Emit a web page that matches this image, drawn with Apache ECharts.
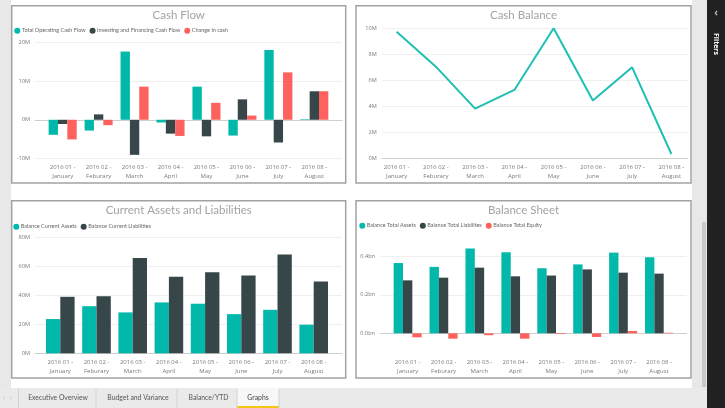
<!DOCTYPE html>
<html>
<head>
<meta charset="utf-8">
<script src="https://cdn.jsdelivr.net/npm/echarts@6/dist/echarts.min.js"></script>
<style>
html,body{margin:0;padding:0;background:#fff;}
#main{width:725px;height:408px;}
</style>
</head>
<body>
<div id="main"></div>
<script>
// ---- data ----
const categories = ["2016 01 - January","2016 02 - Feburary","2016 03 - March","2016 04 - April","2016 05 - May","2016 06 - June","2016 07 - July","2016 08 - August"];

// Cash Flow (millions)
const operatingCashFlow = [-3.9, -2.8, 17.7, -0.7, 8.6, -4.1, 18.1, 0.15];
const investingFinancingCashFlow = [-1.1, 1.4, -9.1, -3.6, -4.3, 5.3, -5.9, 7.4];
const changeInCash = [-5.1, -1.4, 8.6, -4.2, 4.4, 1.1, 12.3, 7.4];

// Cash Balance (millions)
const cashBalance = [9.74, 7.05, 3.82, 5.26, 10.0, 4.44, 7.0, 0.33];

// Current Assets and Liabilities (millions)
const currentAssets = [23.7, 32.6, 28.3, 35.2, 34.3, 27.1, 30.1, 19.8];
const currentLiabilities = [39.1, 39.5, 66.0, 52.9, 56.1, 53.8, 68.3, 49.7];

// Balance Sheet (billions)
const totalAssets = [0.365, 0.345, 0.440, 0.421, 0.338, 0.358, 0.419, 0.395];
const totalLiabilities = [0.275, 0.289, 0.341, 0.296, 0.300, 0.332, 0.315, 0.310];
const totalEquity = [-0.021, -0.028, -0.010, -0.028, -0.004, -0.019, 0.012, 0.003];

const tabs = ["Executive Overview", "Budget and Variance", "Balance/YTD", "Graphs"];

// ---- styling ----
const FONT = "'Open Sans','Noto Sans',sans-serif";
const FONT2 = "Lato,'Open Sans',sans-serif";
const TEAL = '#01b8aa', DARK = '#374649', RED = '#fd625e';
const H = 408, W = 725;

const chart = echarts.init(document.getElementById('main'), null, {renderer: 'canvas'});

function catLabel(v) { const p = v.split(' - '); return p[0] + ' -\n' + p[1]; }

function linesAxes(left, right, top, bottom, min, max, interval, fmt, gi) {
  return {
    grid: {left: left, right: W - right, top: top, bottom: H - bottom},
    xAxis: {type: 'value', gridIndex: gi, min: 0, max: 1,
      axisLabel: {show: false}, axisTick: {show: false}, splitLine: {show: false},
      axisLine: {show: true, onZero: true, lineStyle: {color: '#cfcfcf', width: 1}}},
    yAxis: {type: 'value', gridIndex: gi, min: min, max: max, interval: interval,
      axisLine: {show: false}, axisTick: {show: false},
      splitLine: {show: true, lineStyle: {color: '#efefef', width: 1}},
      axisLabel: {fontSize: 5.6, color: '#7a7a7a', margin: 5, fontFamily: FONT, formatter: fmt}}
  };
}
function dataAxes(left, right, top, bottom, min, max, gi, margin) {
  return {
    grid: {left: left, right: W - right, top: top, bottom: H - bottom},
    xAxis: {type: 'category', gridIndex: gi, data: categories,
      axisLine: {show: false}, axisTick: {show: false}, splitLine: {show: false},
      axisLabel: {interval: 0, fontSize: 6, color: '#7a7a7a', lineHeight: 9, margin: margin,
        fontFamily: FONT, formatter: catLabel}},
    yAxis: {type: 'value', gridIndex: gi, min: min, max: max, show: false, splitLine: {show: false}}
  };
}
const fmtM = v => v + 'M';
const fmtBn = v => v.toFixed(1) + 'bn';

const parts = [
  linesAxes(35, 342, 42.7, 158.3, -10, 20, 10, fmtM, 0),
  dataAxes(44.7, 332.3, 42.7, 158.3, -10, 20, 1, 4),
  linesAxes(381.7, 688, 28.3, 158.3, 0, 10, 2, fmtM, 2),
  dataAxes(377, 691, 28.3, 158.3, 0, 10, 3, 4),
  linesAxes(35, 342, 237.7, 353.3, 0, 80, 20, fmtM, 4),
  dataAxes(42.2, 331.8, 237.7, 353.3, 0, 80, 5, 4),
  linesAxes(380, 686.7, 256.3, 333.3, 0, 0.4, 0.2, fmtBn, 6),
  dataAxes(389.7, 677, 237.05, 352.55, -0.1, 0.5, 7, 5)
];

function bar(name, data, color, gi, gap) {
  return {type: 'bar', name: name, data: data, xAxisIndex: gi, yAxisIndex: gi,
    itemStyle: {color: color}, barGap: '0%', barCategoryGap: gap, emphasis: {disabled: true}};
}

const series = [
  bar('Total Operating Cash Flow', operatingCashFlow, TEAL, 1, '22%'),
  bar('Investing and Financing Cash Flow', investingFinancingCashFlow, DARK, 1, '22%'),
  bar('Change in cash', changeInCash, RED, 1, '22%'),
  {type: 'line', name: 'Cash Balance', data: cashBalance, xAxisIndex: 3, yAxisIndex: 3,
    showSymbol: false, symbol: 'none', lineStyle: {color: '#1fbfb3', width: 2}, itemStyle: {color: '#1fbfb3'}},
  bar('Balance Current Assets', currentAssets, TEAL, 5, '21%'),
  bar('Balance Current Liabilities', currentLiabilities, DARK, 5, '21%'),
  bar('Balance Total Assets', totalAssets, TEAL, 7, '22%'),
  bar('Balance Total Liabilites', totalLiabilities, DARK, 7, '22%'),
  bar('Balance Total Equity', totalEquity, RED, 7, '22%')
];

function legend(left, top, names) {
  return {left: left, top: top, orient: 'horizontal', padding: 0, itemWidth: 6, itemHeight: 6,
    itemGap: 4, icon: 'circle', selectedMode: false,
    textStyle: {fontSize: 5.5, color: '#666', fontFamily: FONT2, padding: [0, 0, 0, -3.5]}, data: names};
}

function title(x, y, t) {
  return {type: 'text', x: x, y: y, z: 10, style: {text: t, fill: '#a3a3a3', font: '11.5px ' + FONT2,
    textAlign: 'center', textVerticalAlign: 'middle'}};
}
function panel(x1, y1, x2, y2) {
  return {type: 'rect', shape: {x: x1, y: y1, width: x2 - x1, height: y2 - y1},
    style: {fill: 'none', stroke: '#a2a2a2', lineWidth: 1.5}, z: 5};
}

const tabCenters = [58, 138, 208.5, 258];
const tabSeps = [18.5, 96, 177, 237, 279];

const graphic = [
  {type: 'rect', shape: {x: 0, y: 0, width: 11, height: 389}, style: {fill: '#e8e8e8'}, z: 1},
  {type: 'rect', shape: {x: 692, y: 0, width: 15, height: 408}, style: {fill: '#e8e8e8'}, z: 1},
  {type: 'rect', shape: {x: 702, y: 222, width: 4, height: 165}, style: {fill: '#c9c9c9'}, z: 2},
  {type: 'rect', shape: {x: 707, y: 0, width: 18, height: 408}, style: {fill: '#212121'}, z: 2},
  {type: 'text', x: 716, y: 13, z: 3, style: {text: '‹', fill: '#bbbbbb', font: 'bold 10px ' + FONT,
    textAlign: 'center', textVerticalAlign: 'middle'}},
  {type: 'text', x: 716, y: 44, rotation: -Math.PI / 2, z: 3, style: {text: 'Filters', fill: '#ffffff',
    font: 'bold 7px ' + FONT, textAlign: 'center', textVerticalAlign: 'middle'}},
  {type: 'rect', shape: {x: 0, y: 388, width: 707, height: 20}, style: {fill: '#eaeaea'}, z: 1},
  {type: 'rect', shape: {x: 237, y: 388, width: 42, height: 20}, style: {fill: '#f7f7f7'}, z: 2},
  {type: 'rect', shape: {x: 237, y: 406, width: 42, height: 2}, style: {fill: '#f2c811'}, z: 3},
  {type: 'text', x: 4, y: 398, z: 3, style: {text: '‹', fill: '#bdbdbd', font: '7px ' + FONT, textAlign: 'center', textVerticalAlign: 'middle'}},
  {type: 'text', x: 11, y: 398, z: 3, style: {text: '›', fill: '#bdbdbd', font: '7px ' + FONT, textAlign: 'center', textVerticalAlign: 'middle'}},
  panel(11.7, 5.7, 345.7, 183),
  panel(356, 5.7, 691, 183),
  panel(11.7, 200.7, 345.7, 378),
  panel(356, 200.7, 691, 378),
  title(178.7, 15, 'Cash Flow'),
  title(523.5, 15, 'Cash Balance'),
  title(178.7, 210, 'Current Assets and Liabilities'),
  title(523.5, 210, 'Balance Sheet')
];
tabSeps.forEach(x => graphic.push({type: 'line', shape: {x1: x, y1: 389, x2: x, y2: 408},
  style: {stroke: '#d2d2d2', lineWidth: 1}, z: 3}));
tabs.forEach((t, i) => graphic.push({type: 'text', x: tabCenters[i], y: 398, z: 4,
  style: {text: t, fill: i === 3 ? '#444' : '#555', font: '6.8px ' + FONT2, textAlign: 'center', textVerticalAlign: 'middle'}}));

const option = {
  backgroundColor: '#ffffff',
  animation: false,
  textStyle: {fontFamily: FONT},
  grid: parts.map(p => p.grid),
  xAxis: parts.map(p => p.xAxis),
  yAxis: parts.map(p => p.yAxis),
  legend: [
    legend(14.3, 27.7, ['Total Operating Cash Flow', 'Investing and Financing Cash Flow', 'Change in cash']),
    legend(13.3, 223.7, ['Balance Current Assets', 'Balance Current Liabilities']),
    legend(359.3, 222.7, ['Balance Total Assets', 'Balance Total Liabilites', 'Balance Total Equity'])
  ],
  series: series,
  graphic: graphic
};
chart.setOption(option);
</script>
</body>
</html>
